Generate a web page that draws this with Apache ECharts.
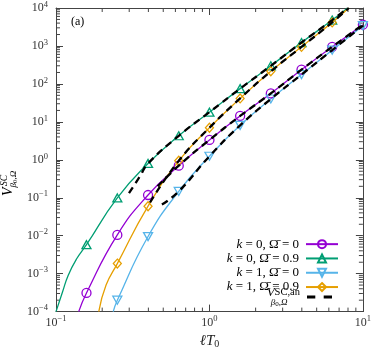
<!DOCTYPE html>
<html><head><meta charset="utf-8">
<script src="https://cdn.jsdelivr.net/npm/echarts@6/dist/echarts.min.js"></script>
<style>html,body{margin:0;padding:0;background:#fff}#c{width:374px;height:354px}</style>
</head><body><div id="c"></div>
<script>
// ---- axis ticks ----
const xMajor = [0.1, 1, 10];
const yMajor = [1e-4, 1e-3, 1e-2, 1e-1, 1, 10, 100, 1000, 10000];
const minorMult = [2, 3, 4, 5, 6, 7, 8, 9];

// ---- k = 0, Omega = 0 (purple circles) ----
const purpleX = [0.158, 0.251, 0.398, 0.631, 1.0, 1.585, 2.512, 3.981, 6.31, 10];
const purpleY = [3.1e-4, 0.0105, 0.118, 0.70, 3.34, 14.3, 56, 237, 946, 3640];
const purpleStart = [[0.1406, 1e-4]];
const purpleEnd = [];
// ---- k = 0, Omega = 0.9 (green triangles) ----
const greenX = [0.158, 0.251, 0.398, 0.631, 1.0, 1.585, 2.512, 3.981, 6.31];
const greenY = [5.8e-3, 0.099, 0.80, 4.3, 18, 75, 300, 1230, 4800];
const greenStart = [[0.1, 1e-4], [0.1104, 3.34e-4], [0.12, 9.0e-4], [0.136, 2.43e-3]];
const greenEnd = [[7.95, 1e4]];
// ---- k = 1, Omega = 0 (blue down triangles) ----
const blueX = [0.251, 0.398, 0.631, 1.0, 1.585, 2.512, 3.981, 6.31, 10];
const blueY = [2.0e-4, 9.5e-3, 0.147, 1.24, 8.1, 40, 176, 776, 3430];
const blueStart = [[0.236, 1e-4]];
const blueEnd = [];
// ---- k = 1, Omega = 0.9 (orange diamonds) ----
const orangeX = [0.251, 0.398, 0.631, 1.0, 1.585, 2.512, 3.981, 6.31];
const orangeY = [1.84e-3, 0.060, 0.94, 7.0, 41.5, 214, 946, 4180];
const orangeStart = [[0.19, 1e-4], [0.212, 5e-4]];
const orangeEnd = [[8.1, 1e4]];

// ---- analytical (dashed black) ----
const anGreenX = [0.299, 0.352, 0.398, 0.631, 1.0, 1.585, 2.512, 3.981, 6.31, 7.95];
const anGreenY = [0.133, 0.364, 0.80, 4.3, 18, 75, 300, 1230, 4800, 1e4];
const anOrangeX = [0.41, 0.631, 1.0, 1.585, 2.512, 3.981, 6.31, 8.1];
const anOrangeY = [0.075, 0.94, 7.0, 41.5, 214, 946, 4180, 1e4];
const anPurpleX = [0.46, 0.631, 1.0, 1.585, 2.512, 3.981, 6.31, 10];
const anPurpleY = [0.2, 0.70, 3.34, 14.3, 56, 237, 946, 3640];
const anBlueX = [0.49, 0.631, 1.0, 1.585, 2.512, 3.981, 6.31, 10];
const anBlueY = [0.066, 0.147, 1.24, 8.1, 40, 176, 776, 3430];

// ---- legend texts ----
const legNames = ['k0W0', 'k0W9', 'k1W0', 'k1W9'];
const legK = ['0', '0', '1', '1'];
const legW = ['0', '0.9', '0', '0.9'];

const FONT = '"Liberation Serif", "DejaVu Serif", serif';
const COL = { purple: '#9400d3', green: '#009e73', blue: '#56b4e9', orange: '#e69f00', axis: '#444' };
const SMOOTH = 0.5;

function curveData(start, xs, ys, end) {
  const d = [];
  start.forEach(p => d.push({ value: p, symbol: 'none' }));
  xs.forEach((x, i) => d.push({ value: [x, ys[i]] }));
  end.forEach(p => d.push({ value: p, symbol: 'none' }));
  return d;
}
function pairs(xs, ys) { return xs.map((x, i) => [x, ys[i]]); }

function powLabel(v) {
  const e = Math.round(Math.log10(v));
  return '{b|10}{s|' + (e < 0 ? '\u2212' + (-e) : String(e)) + '}';
}
const labelRich = {
  b: { fontFamily: FONT, fontSize: 12, color: '#333', lineHeight: 16 },
  s: { fontFamily: FONT, fontSize: 8.5, color: '#333', lineHeight: 10, verticalAlign: 'top' }
};

const minorX = [];
xMajor.slice(0, -1).forEach(b => minorMult.forEach(m => minorX.push([b * m, 1])));
const minorY = [];
yMajor.slice(0, -1).forEach(b => minorMult.forEach(m => minorY.push([1, b * m])));

function lineSeries(name, color, symbol, size, start, xs, ys, end) {
  return {
    name, type: 'line', xAxisIndex: 0, yAxisIndex: 0,
    data: curveData(start, xs, ys, end), smooth: SMOOTH,
    symbol, symbolSize: size,
    lineStyle: { color, width: 1.3 },
    itemStyle: { color: 'rgba(255,255,255,0)', borderColor: color, borderWidth: 1.3 },
    emphasis: { disabled: true }, z: 3
  };
}
function anSeries(xs, ys) {
  return {
    name: 'an', type: 'line', xAxisIndex: 0, yAxisIndex: 0,
    data: pairs(xs, ys), smooth: SMOOTH, symbol: 'none',
    lineStyle: { color: '#000', width: 2.3, type: [7, 5] },
    itemStyle: { color: '#000' }, emphasis: { disabled: true }, z: 5
  };
}

const tickStyle = { stroke: COL.axis, lineWidth: 1 };
const option = {
  animation: false,
  title: { text: '(a)', left: 71, top: 16, padding: 0,
    textStyle: { fontFamily: FONT, fontSize: 12, fontWeight: 'normal', color: '#000' } },
  grid: { left: 56, right: 7, top: 7, bottom: 37 },
  xAxis: [
    { type: 'log', logBase: 10, min: 0.1, max: 10, position: 'bottom',
      axisLine: { lineStyle: { color: COL.axis, width: 1 } },
      axisTick: { inside: true, length: 7, lineStyle: { color: COL.axis } },
      axisLabel: { formatter: powLabel, rich: labelRich, margin: 3, showMinLabel: true, showMaxLabel: true },
      splitLine: { show: false },
      name: '{l|\u2113T}{s|0}', nameLocation: 'middle', nameGap: 18,
      nameTextStyle: { rich: {
        l: { fontFamily: FONT, fontSize: 15, fontStyle: 'italic', color: '#222', lineHeight: 16 },
        s: { fontFamily: FONT, fontSize: 10, color: '#222', lineHeight: 16, verticalAlign: 'bottom' } } } },
    { type: 'log', logBase: 10, min: 0.1, max: 10, position: 'top',
      axisLine: { lineStyle: { color: COL.axis, width: 1 } },
      axisTick: { inside: true, length: 7, lineStyle: { color: COL.axis } },
      axisLabel: { show: false }, splitLine: { show: false } }
  ],
  yAxis: [
    { type: 'log', logBase: 10, min: 1e-4, max: 1e4, position: 'left',
      axisLine: { lineStyle: { color: COL.axis, width: 1 } },
      axisTick: { inside: true, length: 7, lineStyle: { color: COL.axis } },
      axisLabel: { formatter: powLabel, rich: labelRich, margin: 8, showMinLabel: true, showMaxLabel: true },
      splitLine: { show: false } },
    { type: 'log', logBase: 10, min: 1e-4, max: 1e4, position: 'right',
      axisLine: { lineStyle: { color: COL.axis, width: 1 } },
      axisTick: { inside: true, length: 7, lineStyle: { color: COL.axis } },
      axisLabel: { show: false }, splitLine: { show: false } }
  ],
  legend: [
    { orient: 'vertical', right: 30, top: 232, align: 'right', itemWidth: 32, itemHeight: 10, itemGap: 0,
      selectedMode: false, data: legNames,
      formatter: n => { const i = legNames.indexOf(n);
        return '{i|k}{n| = ' + legK[i] + ', \u03A9\u0304 = ' + legW[i] + '}'; },
      textStyle: { fontFamily: FONT, fontSize: 13, color: '#000', lineHeight: 14.3, padding: [0, 2, 0, 0],
        rich: { i: { fontFamily: FONT, fontSize: 13, fontStyle: 'italic', color: '#000', lineHeight: 14.3 },
                n: { fontFamily: FONT, fontSize: 13, color: '#000', lineHeight: 14.3 } } } },
    { orient: 'vertical', right: 37, top: 281, align: 'right', itemWidth: 25, itemHeight: 3, itemGap: 0,
      selectedMode: false,
      data: [{ name: 'an', icon: 'path://M0,0h8.3v3h-8.3zM16.7,0h8.3v3h-8.3z' }],
      itemStyle: { borderWidth: 0 },
      formatter: () => '{v|V}{p|SC,an}\n{pad|}{b|\u03B2}{c|0}{b|,\u03A9}',
      textStyle: { fontFamily: FONT, fontSize: 13, color: '#000', padding: [0, 2, 0, 0],
        rich: { v: { fontFamily: FONT, fontSize: 13, fontStyle: 'italic', color: '#000', lineHeight: 12 },
                p: { fontFamily: FONT, fontSize: 10.5, color: '#000', lineHeight: 12, verticalAlign: 'top' },
                pad: { width: 4, align: 'left', lineHeight: 9 },
                b: { fontFamily: FONT, fontSize: 9, fontStyle: 'italic', color: '#000', lineHeight: 9, align: 'left' },
                c: { fontFamily: FONT, fontSize: 7, color: '#000', lineHeight: 9, align: 'left', verticalAlign: 'bottom' } } } }
  ],
  graphic: [{
    type: 'group', x: 8.5, y: 196, rotation: Math.PI / 2,
    children: [
      { type: 'text', x: 0, y: 0, style: { text: 'V', font: 'italic 14px ' + FONT, fill: '#000', align: 'left', verticalAlign: 'middle' } },
      { type: 'text', x: 10, y: -4.5, style: { text: 'SC', font: 'italic 9.5px ' + FONT, fill: '#000', align: 'left', verticalAlign: 'middle' } },
      { type: 'text', x: 8.5, y: 5.5, style: { text: '{b|\u03B2}{c|0}{b|,\u03A9}', fill: '#000', align: 'left', verticalAlign: 'middle',
          rich: { b: { fontFamily: FONT, fontSize: 9, fontStyle: 'italic', fill: '#000' },
                  c: { fontFamily: FONT, fontSize: 7, fill: '#000', verticalAlign: 'bottom' } } } }
    ]
  }],
  series: [
    lineSeries('k0W0', COL.purple, 'circle', 9, purpleStart, purpleX, purpleY, purpleEnd),
    lineSeries('k0W9', COL.green, 'triangle', [9, 8], greenStart, greenX, greenY, greenEnd),
    lineSeries('k1W0', COL.blue, 'path://M0,0L10,0L5,8.66Z', [9, 8], blueStart, blueX, blueY, blueEnd),
    lineSeries('k1W9', COL.orange, 'diamond', [8, 9], orangeStart, orangeX, orangeY, orangeEnd),
    anSeries(anGreenX, anGreenY),
    anSeries(anOrangeX, anOrangeY),
    anSeries(anPurpleX, anPurpleY),
    anSeries(anBlueX, anBlueY),
    { type: 'custom', xAxisIndex: 0, yAxisIndex: 0, data: minorX, silent: true, z: 1,
      renderItem: (p, api) => { const v = api.value(0);
        const b = api.coord([v, 1e-4]), t = api.coord([v, 1e4]);
        return { type: 'group', children: [
          { type: 'line', shape: { x1: b[0], y1: b[1], x2: b[0], y2: b[1] - 4 }, style: tickStyle },
          { type: 'line', shape: { x1: t[0], y1: t[1], x2: t[0], y2: t[1] + 4 }, style: tickStyle } ] }; } },
    { type: 'custom', xAxisIndex: 0, yAxisIndex: 0, data: minorY, silent: true, z: 1,
      renderItem: (p, api) => { const v = api.value(1);
        const l = api.coord([0.1, v]), r = api.coord([10, v]);
        return { type: 'group', children: [
          { type: 'line', shape: { x1: l[0], y1: l[1], x2: l[0] + 4, y2: l[1] }, style: tickStyle },
          { type: 'line', shape: { x1: r[0], y1: r[1], x2: r[0] - 4, y2: r[1] }, style: tickStyle } ] }; } }
  ]
};
const chart = echarts.init(document.getElementById('c'), null, { renderer: 'canvas' });
chart.setOption(option);
</script>
</body></html>
